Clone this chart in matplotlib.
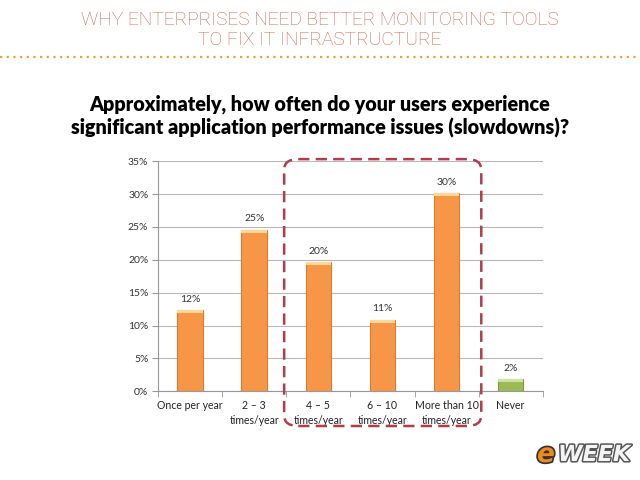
import matplotlib.pyplot as plt
import numpy as np
from matplotlib.patches import FancyBboxPatch
import matplotlib.patheffects as pe

categories = ["Once per year", "2 \u2013 3\ntimes/year", "4 \u2013 5\ntimes/year",
              "6 \u2013 10\ntimes/year", "More than 10\ntimes/year", "Never"]
values = [12.3, 24.6, 19.6, 10.9, 30.1, 1.8]
value_labels = ["12%", "25%", "20%", "11%", "30%", "2%"]
bar_colors = ["#f79646"] * 5 + ["#9bbb59"]
edge_colors = ["#e07b28"] * 5 + ["#7f9a44"]
top_colors = ["#fcd89a"] * 5 + ["#cfe2a4"]
yticks = [0, 5, 10, 15, 20, 25, 30, 35]

fig = plt.figure(figsize=(6.4, 4.8), dpi=100)
fig.patch.set_facecolor("white")

# header
fig.text(0.5, 0.958, "WHY ENTERPRISES NEED BETTER MONITORING TOOLS",
         ha="center", va="center", fontsize=13.8, color="#cc6650",
         family="Roboto", fontweight="light")
fig.text(0.5, 0.916, "TO FIX IT INFRASTRUCTURE",
         ha="center", va="center", fontsize=13.8, color="#cc6650",
         family="Roboto", fontweight="light")
fig.add_artist(plt.Line2D([0.0, 1.0], [0.881, 0.881], transform=fig.transFigure,
                          color="#eea040", linestyle=(0, (1, 2)), linewidth=1.6))

fig.text(0.5, 0.782, "Approximately, how often do your users experience",
         ha="center", va="center", fontsize=14.2, fontweight="heavy",
         family="Lato", color="black")
fig.text(0.5, 0.733, "significant application performance issues (slowdowns)?",
         ha="center", va="center", fontsize=14.2, fontweight="heavy",
         family="Lato", color="black")

ax = fig.add_axes([0.247, 0.185, 0.601, 0.479])
x = np.arange(len(categories))
width = 0.4
ax.bar(x, values, width, color=bar_colors, edgecolor=edge_colors,
       linewidth=0.8, zorder=3)
# light highlight on top of each bar
ax.bar(x, [0.45] * len(values), width, bottom=np.array(values) - 0.45,
       color=top_colors, linewidth=0, zorder=4)

for xi, v, lab in zip(x, values, value_labels):
    ax.text(xi, v + 1.0, lab, ha="center", va="bottom", fontsize=7.5,
            family="Lato", color="#333333")

ax.set_xlim(-0.5, len(categories) - 0.5)
ax.set_ylim(0, 35)
ax.set_yticks(yticks)
ax.set_yticklabels([f"{t}%" for t in yticks], fontsize=7.5, family="Lato",
                   color="#333333")
ax.set_xticks(x)
ax.set_xticklabels(categories, fontsize=7.6, family="Lato", color="#222222",
                   linespacing=1.55)
ax.tick_params(axis="x", length=0, pad=6)
ax.set_xticks(np.arange(len(categories) + 1) - 0.5, minor=True)
ax.tick_params(axis="x", which="minor", length=4, color="#999999")
ax.tick_params(axis="y", length=4, color="#999999", pad=3)
ax.grid(axis="y", color="#b8b8b8", linewidth=0.8, zorder=0)
ax.set_axisbelow(True)
for s in ["top", "right"]:
    ax.spines[s].set_visible(False)
ax.spines["left"].set_color("#999999")
ax.spines["bottom"].set_color("#999999")

# dashed highlight box around the middle three categories
box = FancyBboxPatch((0.444, 0.1125), 0.308, 0.556, transform=fig.transFigure,
                     boxstyle="round,pad=0,rounding_size=0.022",
                     fill=False, edgecolor="#b23c4a", linewidth=1.8,
                     linestyle=(0, (4.5, 2.5)), zorder=10)
fig.add_artist(box)

# eWEEK logo
shadow = [pe.withStroke(linewidth=2.5, foreground="#333333")]
fig.text(0.867, 0.052, "e", ha="right", va="center", fontsize=19,
         fontweight="bold", style="italic", color="#f08a1c",
         family="DejaVu Sans", path_effects=shadow)
fig.text(0.872, 0.052, "WEEK", ha="left", va="center", fontsize=16,
         fontweight="bold", style="italic", color="#f4f4f4",
         family="DejaVu Sans",
         path_effects=[pe.withStroke(linewidth=2.2, foreground="#555555")])

fig.savefig("out.png", dpi=100)
